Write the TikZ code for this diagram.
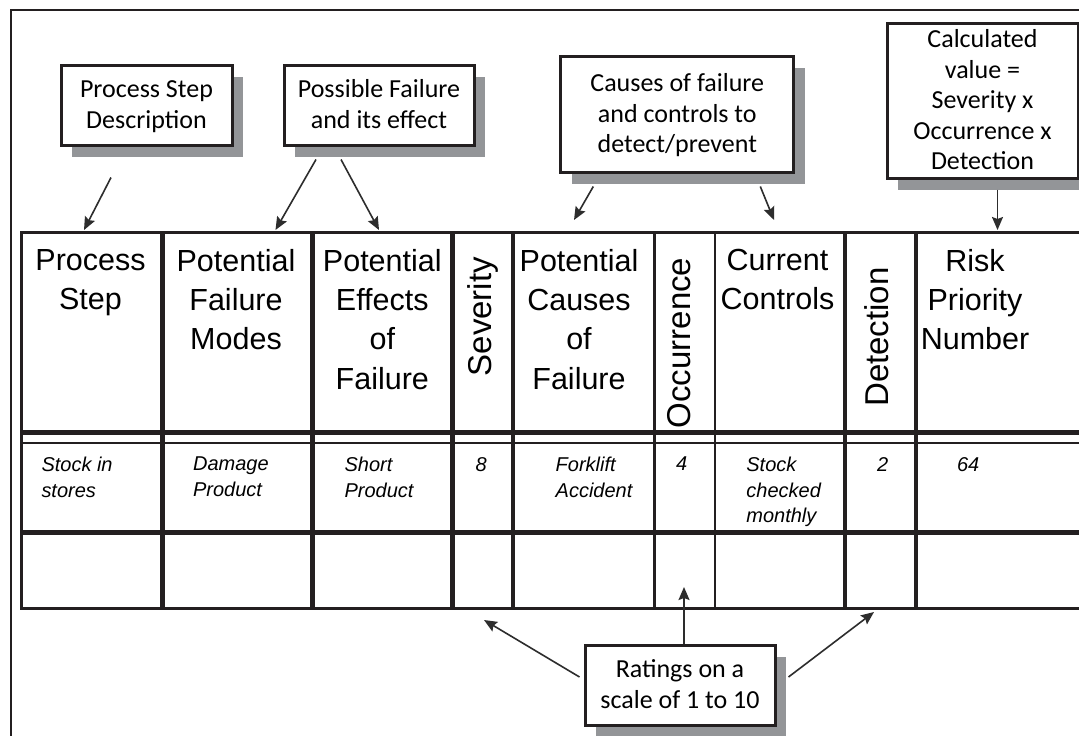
\documentclass[tikz,border=0pt]{standalone}
\usepackage{fontspec}
\setmainfont{Liberation Sans}
\newfontfamily\callfont{Carlito}
\usepackage{tikz}
\usetikzlibrary{arrows.meta}
\usetikzlibrary{calc,shadows,positioning}

\definecolor{ink}{RGB}{35,31,32}
\definecolor{shadowgray}{RGB}{147,149,152}
\definecolor{arrowgray}{RGB}{45,45,45}

\newcommand\calltop{\rule{0pt}{22pt}}
\newcommand\callbot{\rule[-6pt]{0pt}{6pt}}

\tikzset{
  callout/.style={draw=ink,line width=3pt,fill=white,align=center,inner sep=0pt,
    font=\callfont\fontsize{26}{30.5}\selectfont,
    drop shadow={shadow xshift=11pt,shadow yshift=-12pt,fill=shadowgray,opacity=1}}
}

\begin{document}
\begin{tikzpicture}[x=1pt,y=-1pt]
  \useasboundingbox (0,0) rectangle (1079,736);
  \fill[white] (0,0) rectangle (1079,736);
  % frame
  \draw[ink,line width=2.5pt] (1100,10) -- (10.8,10) -- (10.8,750);

  % table lines
  \begin{scope}[ink]
    \draw[line width=3pt] (21,232.5) -- (1100,232.5);
    \draw[line width=5pt] (21,432.5) -- (1100,432.5);
    \draw[line width=2.5pt] (21,443) -- (1100,443);
    \draw[line width=5pt] (21,532.5) -- (1100,532.5);
    \draw[line width=3.3pt] (21,608.3) -- (1100,608.3);
    \draw[line width=3pt] (21,231) -- (21,610);
    \foreach \x in {162.3,312.5,452.5,513.2,844.8,915.8}
      \draw[line width=4.5pt] (\x,232.5) -- (\x,608.3);
    \foreach \x in {654.6,714.8}
      \draw[line width=2.5pt] (\x,232.5) -- (\x,608.3);
  \end{scope}

  % column heads
  \begin{scope}[every node/.style={inner sep=0pt,align=center,anchor=north,
      font=\fontsize{30.5}{39.3}\selectfont}]
    \node (hstep) at (90.5,249) {Process\\Step};
    \node (hmode) at (236,249) {Potential\\Failure\\Modes};
    \node (heffect) at (382.3,249) {Potential\\Effects\\of\\Failure};
    \node (hcause) at (579,249) {Potential\\Causes\\of\\Failure};
    \node (hctrl) at (777.5,249) {Current\\Controls};
    \node (hrpn) at (975,249) {Risk\\Priority\\Number};
  \end{scope}
  \begin{scope}[every node/.style={inner sep=0pt,rotate=90,
      font=\fontsize{33}{39}\selectfont}]
    \node (hsev) at (483,316.7) {Severity};
    \node (hocc) at (679,343) {Occurrence};
    \node (hdet) at (877,337) {Detection};
  \end{scope}

  % example row
  \begin{scope}[every node/.style={inner sep=0pt,anchor=north west,align=left,
      font=\fontsize{20}{25.5}\selectfont\itshape}]
    \node (dstep) at (41.3,457) {Stock in\\stores};
    \node (dmode) at (192.9,457) {Damage\\Product};
    \node (deffect) at (344.4,457) {Short\\Product};
    \node (dsev) at (475.3,457) {8};
    \node (dcause) at (555.5,457) {Forklift\\Accident};
    \node (docc) at (675.8,457) {4};
    \node (dctrl) at (746.2,457) {Stock\\checked\\monthly};
    \node (ddet) at (876.8,457) {2};
    \node (drpn) at (956.9,457) {64};
  \end{scope}

  % callouts
  \node[callout,minimum width=171pt,minimum height=80pt] (desc) at (146.5,105)
    {\calltop Process Step\\Description\callbot};
  \node[callout,minimum width=190pt,minimum height=80pt] (fail) at (379,105)
    {\calltop Possible Failure\\and its effect\callbot};
  \node[callout,minimum width=233pt,minimum height=116pt] (cause) at (677.3,114)
    {\calltop Causes of failure\\and controls to\\detect/prevent\callbot};
  \node[callout,minimum width=191pt,minimum height=155pt] (rpn) at (982.5,100.5)
    {\calltop Calculated\\value =\\Severity x\\Occurrence x\\Detection\callbot};
  \node[callout,minimum width=190pt,minimum height=80pt] (rate) at (680,685)
    {\calltop Ratings on a\\scale of 1 to 10\callbot};

  \begin{scope}[>={Stealth[length=13pt,width=11pt,inset=2pt]},
      every edge/.style={draw,arrowgray,line width=1.6pt}]
    \coordinate (t1) at (84,230);
    \coordinate (t2) at (275.5,230);
    \coordinate (t3) at (379,230);
    \coordinate (t4) at (574,220);
    \coordinate (t5) at (774,220);
    \coordinate (t6) at (997.5,230);
    \coordinate (t7) at (684,587);
    \coordinate (t8) at (484,620);
    \coordinate (t9) at (874,612);
    \path[->] ([xshift=-35.5pt,yshift=-31pt]desc.south) edge (t1);
    \path[->] ([xshift=-63pt,yshift=-13pt]fail.south) edge (t2);
    \path[->] ([xshift=-38pt,yshift=-13pt]fail.south) edge (t3);
    \path[->] ([xshift=-84pt,yshift=-13pt]cause.south) edge (t4);
    \path[->] ([xshift=83pt,yshift=-13pt]cause.south) edge (t5);
    \path[->] ([xshift=15pt,yshift=-10pt]rpn.south) edge (t6);
    \path[->] ([xshift=4pt]rate.north) edge (t7);
    \path[->] ([xshift=-4pt,yshift=8pt]rate.west) edge (t8);
    \path[->] ([xshift=12pt,yshift=8pt]rate.east) edge (t9);
  \end{scope}
\end{tikzpicture}
\end{document}
